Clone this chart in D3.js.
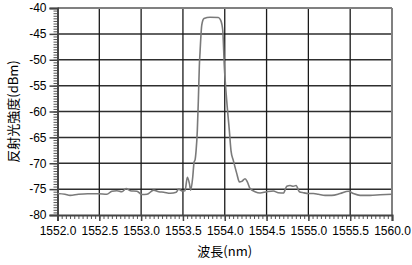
<!DOCTYPE html>
<html>
<head>
<meta charset="utf-8">
<script src="https://cdn.jsdelivr.net/npm/d3@7"></script>
<style>
  body { margin: 0; background: #fff; }
  svg text { font-family: "Noto Sans CJK JP", "DejaVu Sans", sans-serif; fill: #000; }
</style>
</head>
<body>
<div id="chart"></div>
<script>
// wavelength (nm) and reflected power (dBm)
const wavelength = [
  1552.00, 1552.09, 1552.15, 1552.25, 1552.36, 1552.49, 1552.59, 1552.65, 1552.71, 1552.77,
  1552.82, 1552.87, 1552.95, 1553.01, 1553.07, 1553.15, 1553.21, 1553.27, 1553.35, 1553.42,
  1553.45, 1553.49, 1553.525, 1553.553, 1553.577, 1553.593, 1553.617, 1553.633, 1553.645, 1553.657,
  1553.672, 1553.684, 1553.696, 1553.705, 1553.725, 1553.752, 1553.824, 1553.923, 1553.952, 1553.976,
  1553.995, 1554.024, 1554.055, 1554.075, 1554.103, 1554.144, 1554.175, 1554.203, 1554.243, 1554.270,
  1554.303, 1554.362, 1554.422, 1554.502, 1554.581, 1554.641, 1554.701, 1554.742, 1554.781, 1554.821,
  1554.853, 1554.892, 1554.940, 1555.000, 1555.060, 1555.120, 1555.200, 1555.280, 1555.380, 1555.478,
  1555.538, 1555.618, 1555.738, 1555.859, 1556.00
];
const power = [
  -75.85, -76.0, -76.2, -76.0, -75.9, -75.9, -76.0, -75.4, -75.3, -75.5,
  -74.9, -75.3, -75.4, -76.05, -76.0, -75.2, -75.5, -75.6, -75.8, -75.6,
  -75.0, -75.35, -75.3, -72.7, -73.9, -75.2, -72.7, -69.8, -69.35, -67.6,
  -63.7, -58.0, -51.3, -48.4, -43.3, -42.05, -41.8, -41.85, -42.4, -44.3,
  -51.3, -58.0, -63.7, -67.6, -69.5, -72.0, -73.6, -73.5, -73.0, -73.6,
  -74.9, -75.5, -75.75, -75.5, -75.35, -75.7, -75.75, -74.45, -74.3, -74.45,
  -74.3, -75.5, -75.7, -75.85, -75.85, -76.0, -76.2, -76.2, -75.85, -75.4,
  -75.85, -76.2, -76.2, -76.1, -76.0
];
const xTickLabels = ['1552.0', '1552.5', '1553.0', '1553.5', '1554.0', '1554.5', '1555.0', '1555.5', '1560.0'];
const yTicks = [-80, -75, -70, -65, -60, -55, -50, -45, -40];

const W = 412, H = 265;
const margin = {top: 8, right: 20, bottom: 50, left: 57.5};
const width = W - margin.left - margin.right;
const height = H - margin.top - margin.bottom;

const svg = d3.select('#chart').append('svg')
  .attr('width', W).attr('height', H);

const g = svg.append('g')
  .attr('transform', `translate(${margin.left},${margin.top})`);

const x = d3.scaleLinear().domain([1552, 1556]).range([0, width]);
const y = d3.scaleLinear().domain([-80, -40]).range([height, 0]);

const xMajor = d3.range(0, 9).map(i => 1552 + i * 0.5);
const xMinor = d3.range(0, 81).map(i => 1552 + i * 0.05);
const yMinor = d3.range(0, 81).map(i => -80 + i * 0.5);

// grid
g.append('g')
  .selectAll('line').data(yTicks.slice(1, -1)).join('line')
  .attr('x1', 0).attr('x2', width)
  .attr('y1', d => y(d)).attr('y2', d => y(d))
  .attr('stroke', '#2e2e2e').attr('stroke-width', 1.5);
g.append('g')
  .selectAll('line').data(xMajor.slice(1, -1)).join('line')
  .attr('x1', d => x(d)).attr('x2', d => x(d))
  .attr('y1', 0).attr('y2', height)
  .attr('stroke', '#1a1a1a').attr('stroke-width', 1.3);

// frame top / right
g.append('line').attr('x1', 0).attr('x2', width).attr('y1', 0).attr('y2', 0)
  .attr('stroke', '#808080').attr('stroke-width', 2);
g.append('line').attr('x1', width).attr('x2', width).attr('y1', 0).attr('y2', height)
  .attr('stroke', '#808080').attr('stroke-width', 2);

// minor ticks
g.append('g')
  .call(d3.axisLeft(y).tickValues(yMinor).tickSize(4).tickFormat(''))
  .call(a => a.select('.domain').remove())
  .selectAll('line').attr('stroke', '#555');
g.append('g')
  .attr('transform', `translate(0,${height})`)
  .call(d3.axisBottom(x).tickValues(xMinor).tickSize(4).tickFormat(''))
  .call(a => a.select('.domain').remove())
  .selectAll('line').attr('stroke', '#555');

// major axes
const yAxis = g.append('g')
  .call(d3.axisLeft(y).tickValues(yTicks).tickSize(8).tickPadding(3).tickFormat(d => d));
const xAxis = g.append('g')
  .attr('transform', `translate(0,${height})`)
  .call(d3.axisBottom(x).tickValues(xMajor).tickSize(6).tickPadding(5)
    .tickFormat((d, i) => xTickLabels[i]));
[yAxis, xAxis].forEach(a => {
  a.select('.domain').attr('stroke', '#444').attr('stroke-width', 2);
  a.selectAll('line').attr('stroke', '#444').attr('stroke-width', 1.5);
  a.selectAll('text').attr('font-size', 12)
    .style('font-family', '"Liberation Sans", "DejaVu Sans", sans-serif');
});

// data line
const line = d3.line()
  .curve(d3.curveMonotoneX)
  .x((d, i) => x(wavelength[i]))
  .y(d => y(d));
g.append('path')
  .datum(power)
  .attr('fill', 'none')
  .attr('stroke', '#7a7a7a')
  .attr('stroke-width', 1.6)
  .attr('d', line);

// axis titles
svg.append('text')
  .attr('transform', `translate(17.5,${margin.top + height / 2}) rotate(-90)`)
  .attr('text-anchor', 'middle')
  .attr('font-size', 13)
  .text('反射光強度(dBm)');
svg.append('text')
  .attr('x', margin.left + width / 2)
  .attr('y', 256)
  .attr('text-anchor', 'middle')
  .attr('font-size', 13)
  .text('波長(nm)');
</script>
</body>
</html>
